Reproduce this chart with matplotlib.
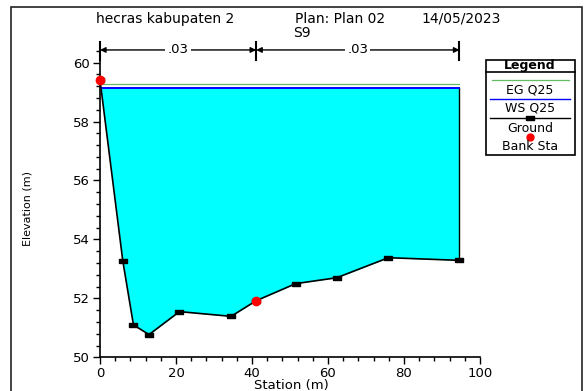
import matplotlib
matplotlib.use('Agg')
import matplotlib.pyplot as plt
from matplotlib.patches import Rectangle
from matplotlib.lines import Line2D
from matplotlib.ticker import MultipleLocator

## cross section S9 data
station = [0, 6.0, 8.8, 12.9, 20.9, 34.5, 41.1, 51.5, 62.3, 75.9, 94.6]
ground = [59.41, 53.27, 51.10, 50.77, 51.55, 51.39, 51.92, 52.50, 52.70, 53.38, 53.29]
bank_sta = [0, 41.1]
bank_elev = [59.41, 51.92]
ws_q25 = 59.13
eg_q25 = 59.27
n_bounds = [0, 41.1, 94.6]
n_values = ['.03', '.03']

W, H = 587, 391
def fx(px): return px / W
def fy(py): return 1 - py / H

plt.rcParams['font.family'] = 'DejaVu Sans'
fig = plt.figure(figsize=(5.87, 3.91), dpi=100)
ax = fig.add_axes([fx(100), fy(357.3), fx(480) - fx(100), fy(42) - fy(357.3)])

def left_cross(level):
    #where a level meets the left bank slope
    x0, x1 = station[0], station[1]
    y0, y1 = ground[0], ground[1]
    return x0 + (y0 - level) / (y0 - y1) * (x1 - x0)

## water
ax.fill_between(station, ground, ws_q25, where=[g < ws_q25 for g in ground],
                interpolate=True, color='#00ffff', lw=0, zorder=1)
ax.plot([station[-1], station[-1]], [ground[-1], ws_q25], color='k', lw=1, zorder=2)
ax.plot([left_cross(ws_q25), station[-1]], [ws_q25, ws_q25], color='#0000ff', lw=1.4, zorder=3)
ax.plot([left_cross(eg_q25), station[-1]], [eg_q25, eg_q25], color='#66bb66', lw=0.9, zorder=3)

## ground + bank stations
rect = [(-1, -0.6), (1, -0.6), (1, 0.6), (-1, 0.6), (-1, -0.6)]
ax.plot(station, ground, color='k', lw=1.2, marker=rect, markersize=5.5, zorder=4)
ax.plot(bank_sta, bank_elev, 'o', color='#ff0000', markersize=6, zorder=5, clip_on=False)

## manning n bars
ybar = 60.43
for b in n_bounds:
    ax.plot([b, b], [60.09, 60.70], color='k', lw=1.5, clip_on=False, zorder=4)
for i in range(len(n_values)):
    a, b = n_bounds[i], n_bounds[i + 1]
    mid = (a + b) / 2
    for end in (a, b):
        ax.annotate('', xy=(end, ybar), xytext=(mid, ybar),
                    arrowprops=dict(arrowstyle='-|>', color='k', lw=1,
                                    shrinkA=0, shrinkB=0, mutation_scale=8))
    ax.text(mid, ybar, n_values[i], ha='center', va='center', fontsize=9.5,
            bbox=dict(fc='white', ec='none', pad=1.5), zorder=6)

ax.set_xlim(0, 100)
ax.set_ylim(50, 60.70)
ax.xaxis.set_major_locator(MultipleLocator(20))
ax.xaxis.set_minor_locator(MultipleLocator(4))
ax.yaxis.set_major_locator(MultipleLocator(2))
ax.yaxis.set_minor_locator(MultipleLocator(0.4))
ax.tick_params(which='major', direction='out', length=5, width=1, labelsize=9.5, pad=2)
ax.tick_params(which='minor', direction='out', length=3, width=1)
ax.spines['top'].set_visible(False)
ax.spines['right'].set_visible(False)
ax.spines['left'].set_linewidth(1.2)
ax.spines['bottom'].set_linewidth(1.2)
ax.patch.set_alpha(0)

## titles and axis labels
fig.text(fx(165), fy(19), 'hecras kabupaten 2', ha='center', va='center', fontsize=10)
fig.text(fx(340), fy(19), 'Plan: Plan 02', ha='center', va='center', fontsize=10)
fig.text(fx(461), fy(19), '14/05/2023', ha='center', va='center', fontsize=10)
fig.text(fx(302), fy(33), 'S9', ha='center', va='center', fontsize=10)
fig.text(fx(291), fy(379), 'Station (m)', ha='center', va='top', fontsize=9.5)
fig.text(fx(28), fy(208), 'Elevation (m)', ha='center', va='center', rotation=90, fontsize=8)

## outer frame
fig.add_artist(Rectangle((fx(11), fy(400)), fx(582) - fx(11), fy(7) - fy(400),
                         transform=fig.transFigure, fill=False, ec='#222222', lw=1.2))

## legend box drawn by hand
fig.add_artist(Rectangle((fx(486), fy(155)), fx(575) - fx(486), fy(60) - fy(155),
                         transform=fig.transFigure, fill=False, ec='k', lw=1.2))
fig.add_artist(Line2D([fx(486), fx(575)], [fy(72), fy(72)], transform=fig.transFigure,
                      color='k', lw=1.2))
fig.text(fx(530), fy(66), 'Legend', ha='center', va='center', fontsize=9, weight='bold')
fig.add_artist(Line2D([fx(492), fx(569)], [fy(80), fy(80)], transform=fig.transFigure,
                      color='#66bb66', lw=0.9))
fig.text(fx(530), fy(90), 'EG Q25', ha='center', va='center', fontsize=9)
fig.add_artist(Line2D([fx(490), fx(570)], [fy(99), fy(99)], transform=fig.transFigure,
                      color='#0000ff', lw=1))
fig.text(fx(530), fy(108), 'WS Q25', ha='center', va='center', fontsize=9)
fig.add_artist(Line2D([fx(490), fx(570)], [fy(118), fy(118)], transform=fig.transFigure,
                      color='k', lw=1))
fig.add_artist(Line2D([fx(530)], [fy(118)], transform=fig.transFigure, color='k',
                      marker=rect, markersize=5.5, lw=0))
fig.text(fx(530), fy(128), 'Ground', ha='center', va='center', fontsize=9)
fig.add_artist(Line2D([fx(530)], [fy(137)], transform=fig.transFigure, color='#ff0000',
                      marker='o', markersize=5, lw=0))
fig.text(fx(530), fy(147), 'Bank Sta', ha='center', va='center', fontsize=9)

fig.savefig('out.png', dpi=100)
